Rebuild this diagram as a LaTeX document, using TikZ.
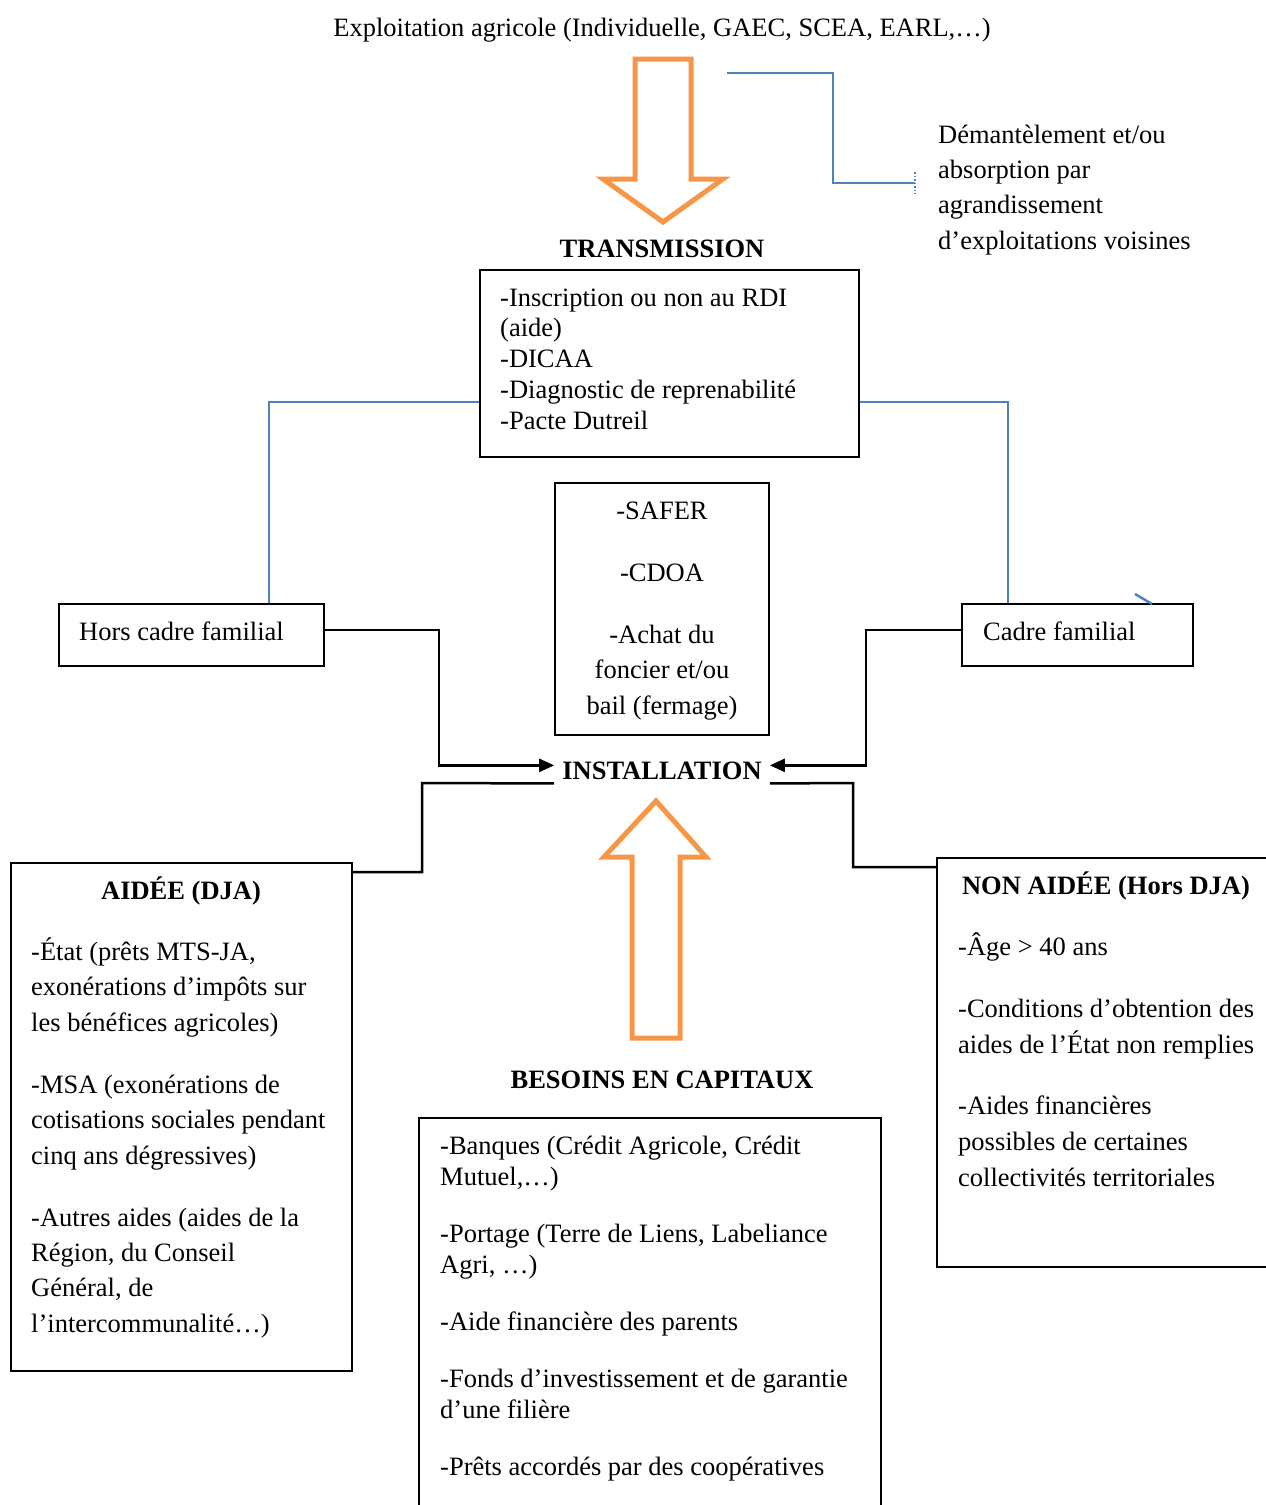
\documentclass[tikz,border=0pt]{standalone}
\usepackage{fontspec}
\setmainfont{Liberation Serif}
\usetikzlibrary{arrows.meta}
\definecolor{orng}{HTML}{F79646}
\definecolor{blu}{HTML}{4F81BD}
\newcommand\myst{\rule{0pt}{25pt}}
\newcommand\mf[1]{\fontsize{26.5}{#1}\selectfont}
\begin{document}
\begin{tikzpicture}[x=1pt,y=-1pt,
 every node/.style={inner sep=0pt, font=\mf{31}},
 box/.style={draw, line width=2pt},
 para/.style={anchor=north west, align=left},
 ttl/.style={anchor=base, font=\bfseries\mf{31}},
 blueline/.style={draw=blu, line width=2.5pt},
 blackline/.style={draw=black, line width=2.5pt},
 arr/.style={-{Triangle[length=15pt,width=13pt]}},
 bigarrow/.style={draw=orng, line width=5pt, line join=miter}]
\useasboundingbox (0,0) rectangle (1266,1505);

% title
\node[anchor=base] (title) at (662,36) {Exploitation agricole (Individuelle, GAEC, SCEA, EARL,…)};

% down arrow
\draw[bigarrow] (635,59) -- (691,59) -- (691,179) -- (723,179) -- (663,222) -- (603,179) -- (635,179) -- cycle;

% top right blue connector
\coordinate (dA) at (727,73);
\coordinate (dB) at (833,73);
\coordinate (dC) at (833,183);
\coordinate (dD) at (915,183);
\draw[blueline] (dA) -- (dB) -- (dC) -- (dD);
\draw[blu, line width=1.5pt, dotted] (915,172) -- (915,194);
\node[para, font=\mf{35.3}] (demant) at (938,118) {\myst Démantèlement et/ou\\absorption par\\agrandissement\\d’exploitations voisines};

% transmission
\node[ttl] (trans) at (662,257) {TRANSMISSION};
\node[box, minimum width=379pt, minimum height=187pt] (tbox) at (669.5,363.5) {};
\node[para, font=\mf{30.75}] (ttext) at (500,281) {\myst-Inscription ou non au RDI\\(aide)\\-DICAA\\-Diagnostic de reprenabilité\\-Pacte Dutreil};

% SAFER
\node[box, minimum width=214pt, minimum height=252pt] (sbox) at (662,609) {};
\node[anchor=north, align=center, font=\mf{35.5}] (stext) at (662,494) {\myst-SAFER\\[26.5pt]-CDOA\\[26.5pt]-Achat du\\foncier et/ou\\bail (fermage)};

% hors cadre / cadre
\node[box, minimum width=265pt, minimum height=62pt] (hors) at (191.5,635) {};
\node[anchor=base west] (horst) at (79,640) {Hors cadre familial};
\node[box, minimum width=231pt, minimum height=62pt] (cadre) at (1077.5,635) {};
\node[anchor=base west] (cadret) at (983,640) {Cadre familial};

\coordinate (bl) at (269,402);
\coordinate (br) at (1008,402);
\draw[blueline] (tbox.west |- bl) -- (bl) -- (bl |- hors.north);
\draw[blueline] (tbox.east |- br) -- (br) -- (br |- cadre.north);
\coordinate (ct1) at (1135,594);
\coordinate (ct2) at (1152,604);
\draw[blueline] (ct1) -- (ct2);

% installation
\node[ttl, inner xsep=8pt] (inst) at (662,779) {INSTALLATION};
\coordinate (ia) at ([yshift=5pt]inst.west);
\coordinate (ib) at ([yshift=5pt]inst.east);
\coordinate (hl) at (439,630);
\coordinate (cl) at (866,630);
\draw[blackline, arr] (hors.east |- hl) -- (hl) -- (hl |- ia) -- (ia);
\draw[blackline, arr] (cadre.west |- cl) -- (cl) -- (cl |- ib) -- (ib);

% aidee box
\node[box, minimum width=341pt, minimum height=508pt] (aide) at (181.5,1117) {};
\node[ttl] (aidet) at (181,899) {AIDÉE (DJA)};
\node[para, font=\mf{35.7}] (a1) at (31,935) {\myst-État (prêts MTS-JA,\\exonérations d’impôts sur\\les bénéfices agricoles)};
\node[para, font=\mf{35.7}] (a2) at (31,1068) {\myst-MSA (exonérations de\\cotisations sociales pendant\\cinq ans dégressives)};
\node[para, font=\mf{35.3}] (a3) at (31,1201) {\myst-Autres aides (aides de la\\Région, du Conseil\\Général, de\\l’intercommunalité…)};

% non aidee box
\node[box, minimum width=343pt, minimum height=409pt] (naide) at (1108.5,1062.5) {};
\node[ttl] (naidet) at (1106,894) {NON AIDÉE (Hors DJA)};
\node[para] (n1) at (958,930) {\myst-Âge > 40 ans};
\node[para, font=\mf{36}] (n2) at (958,992) {\myst-Conditions d’obtention des\\aides de l’État non remplies};
\node[para, font=\mf{36}] (n3) at (958,1089) {\myst-Aides financières\\possibles de certaines\\collectivités territoriales};

% connectors below installation
\coordinate (lb1) at (422,783);
\coordinate (lb2) at (422,872);
\coordinate (rb1) at (853,783);
\coordinate (rb2) at (853,867);
\draw[blackline] ([yshift=-4pt]inst.south west) -- (lb1) -- (lb2) -- (aide.east |- lb2);
\draw[blackline] ([yshift=-4pt]inst.south east) -- (rb1) -- (rb2) -- (naide.west |- rb2);

% up arrow
\draw[bigarrow] (632,1038) -- (680,1038) -- (680,857) -- (706,857) -- (656,801) -- (604,857) -- (632,857) -- cycle;

% besoins
\node[ttl] (besoins) at (662,1088) {BESOINS EN CAPITAUX};
\node[box, minimum width=462pt, minimum height=402pt] (bbox) at (650,1319) {};
\node[para] (b1) at (440,1129) {\myst-Banques (Crédit Agricole, Crédit\\Mutuel,…)};
\node[para] (b2) at (440,1217) {\myst-Portage (Terre de Liens, Labeliance\\Agri, …)};
\node[para] (b3) at (440,1305) {\myst-Aide financière des parents};
\node[para] (b4) at (440,1362) {\myst-Fonds d’investissement et de garantie\\d’une filière};
\node[para] (b5) at (440,1450) {\myst-Prêts accordés par des coopératives};
\end{tikzpicture}
\end{document}
